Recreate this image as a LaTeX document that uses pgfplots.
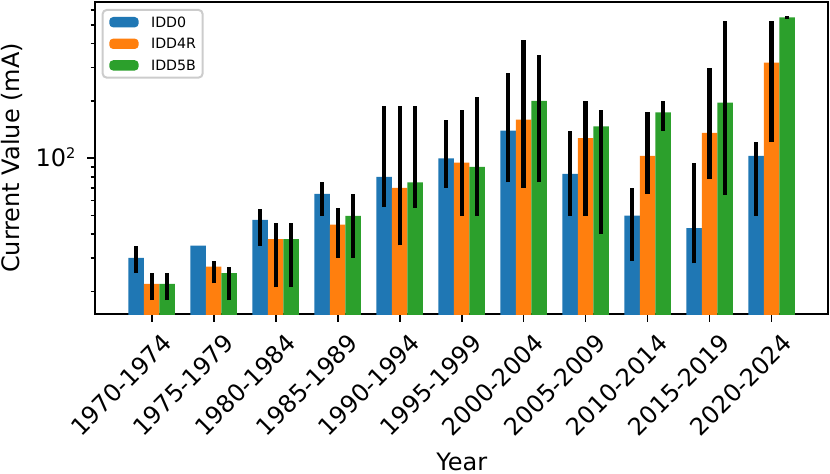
\documentclass[border=0pt]{standalone}
\usepackage{fontspec}
\setmainfont{DejaVu Sans}
\usepackage{pgfplots}
\pgfplotsset{compat=1.18}
\definecolor{c0}{HTML}{1F77B4}
\definecolor{c1}{HTML}{FF7F0E}
\definecolor{c2}{HTML}{2CA02C}
\newcommand{\tfont}{\fontsize{12}{14}\selectfont}
\newcommand{\lfont}{\fontsize{7.1}{8}\selectfont}
\tikzset{xl/.style={rotate=45, anchor=north east, inner sep=0pt, font=\tfont, xshift=-3pt, yshift=-9.5pt}}
\begin{document}
\begin{tikzpicture}
\begin{axis}[
  scale only axis, width=366.7pt, height=156pt, clip mode=individual,
  ymode=log, ymin=15.2, ymax=662, xmin=-0.915, xmax=10.915,
  xtick={0,1,2,3,4,5,6,7,8,9,10}, xticklabels={},
  ytick={100}, yticklabels={},
  minor ytick={20,30,40,50,60,70,80,90,200,300,400,500,600},
  tick align=outside, xtick pos=bottom, ytick pos=left,
  major tick length=3.8pt, minor tick length=2.2pt,
  tick style={black, line width=0.8pt},
  axis line style={line width=1pt},
  xlabel={Year}, ylabel={Current Value (mA)},
  xlabel style={font=\tfont, at={(axis description cs:0.5,-0.4455)}, anchor=north, inner sep=0pt},
  ylabel style={font=\tfont, at={(axis description cs:-0.1287,0.5)}, anchor=north, rotate=0, inner sep=0pt},
  legend style={at={(0.0091,0.9776)}, anchor=north west,
    draw=black!20, rounded corners=2pt, line width=1pt, inner xsep=3.3pt, inner ysep=3.5pt,
    row sep=5.6pt, column sep=6.2pt, nodes={inner sep=0pt, text height=5.2pt, text depth=0pt}},
  legend cell align=left,
  legend image code/.code={\fill[#1, draw=none] (0pt,-2.6pt) rectangle (14.7pt,2.6pt);},
]
\addplot[ybar, bar width=0.25, bar shift=0pt, fill=c0, draw=none] coordinates {
 (-0.25,30.0) (0.75,34.8) (1.75,47.4) (2.75,64.9) (3.75,79.8) (4.75,100)
 (5.75,139.7) (6.75,82.7) (7.75,50.0) (8.75,42.9) (9.75,102.8)};
\addlegendentry{\lfont IDD0}
\addplot[ybar, bar width=0.25, bar shift=0pt, fill=c1, draw=none] coordinates {
 (0,21.9) (1,27.0) (2,37.6) (3,44.8) (4,69.8) (5,94.8)
 (6,159.6) (7,127.4) (8,102.8) (9,135.8) (10,318)};
\addlegendentry{\lfont IDD4R}
\addplot[ybar, bar width=0.25, bar shift=0pt, fill=c2, draw=none] coordinates {
 (0.25,21.9) (1.25,24.9) (2.25,37.6) (3.25,49.8) (4.25,74.8) (5.25,90.0)
 (6.25,200) (7.25,147.2) (8.25,174.4) (9.25,195.9) (10.25,550)};
\addlegendentry{\lfont IDD5B}
% error bars (low, high)
\addplot[black, line width=2.2pt, unbounded coords=jump, forget plot] coordinates {
 (-0.25,25.1) (-0.25,34.8) (-0.25,nan)
 (1.75,34.8) (1.75,54.0) (1.75,nan)
 (2.75,50.0) (2.75,74.8) (2.75,nan)
 (3.75,55.3) (3.75,189) (3.75,nan)
 (4.75,70.1) (4.75,159) (4.75,nan)
 (5.75,74.8) (5.75,279) (5.75,nan)
 (6.75,50.0) (6.75,139.7) (6.75,nan)
 (7.75,29.0) (7.75,69.5) (7.75,nan)
 (8.75,28.0) (8.75,94.8) (8.75,nan)
 (9.75,50.0) (9.75,121.4)};
\addplot[black, line width=2.2pt, unbounded coords=jump, forget plot] coordinates {
 (0,18.0) (0,24.9) (0,nan)
 (1,22.0) (1,28.9) (1,nan)
 (2,21.0) (2,45.9) (2,nan)
 (3,30.0) (3,54.8) (3,nan)
 (4,34.9) (4,189) (4,nan)
 (5,50.0) (5,179.6) (5,nan)
 (6,70.1) (6,418) (6,nan)
 (7,50.0) (7,200) (7,nan)
 (8,64.9) (8,174.4) (8,nan)
 (9,77.8) (9,298) (9,nan)
 (10,122.2) (10,528)};
\addplot[black, line width=2.2pt, unbounded coords=jump, forget plot] coordinates {
 (0.25,18.0) (0.25,24.9) (0.25,nan)
 (1.25,18.0) (1.25,27.0) (1.25,nan)
 (2.25,21.0) (2.25,45.9) (2.25,nan)
 (3.25,30.0) (3.25,64.7) (3.25,nan)
 (4.25,55.0) (4.25,189) (4.25,nan)
 (5.25,50.0) (5.25,209) (5.25,nan)
 (6.25,74.8) (6.25,349) (6.25,nan)
 (7.25,39.9) (7.25,179.6) (7.25,nan)
 (8.25,139.7) (8.25,200) (8.25,nan)
 (9.25,64.2) (9.25,528) (9.25,nan)
 (10.25,539) (10.25,561)};
% tick labels
\node[xl] at (axis cs:0,15.2) {1970-1974};
\node[xl] at (axis cs:1,15.2) {1975-1979};
\node[xl] at (axis cs:2,15.2) {1980-1984};
\node[xl] at (axis cs:3,15.2) {1985-1989};
\node[xl] at (axis cs:4,15.2) {1990-1994};
\node[xl] at (axis cs:5,15.2) {1995-1999};
\node[xl] at (axis cs:6,15.2) {2000-2004};
\node[xl] at (axis cs:7,15.2) {2005-2009};
\node[xl] at (axis cs:8,15.2) {2010-2014};
\node[xl] at (axis cs:9,15.2) {2015-2019};
\node[xl] at (axis cs:10,15.2) {2020-2024};
\node[anchor=base east, inner sep=0pt, font=\tfont, xshift=-9.6pt, yshift=-4.2pt] at (axis cs:-0.915,100) {10\raisebox{3.85pt}{\fontsize{7.3}{8}\selectfont 2}};
\end{axis}
\pgfresetboundingbox
\useasboundingbox (-47.5pt,-79.5pt) rectangle (367.5pt,157pt);
\end{tikzpicture}
\end{document}
